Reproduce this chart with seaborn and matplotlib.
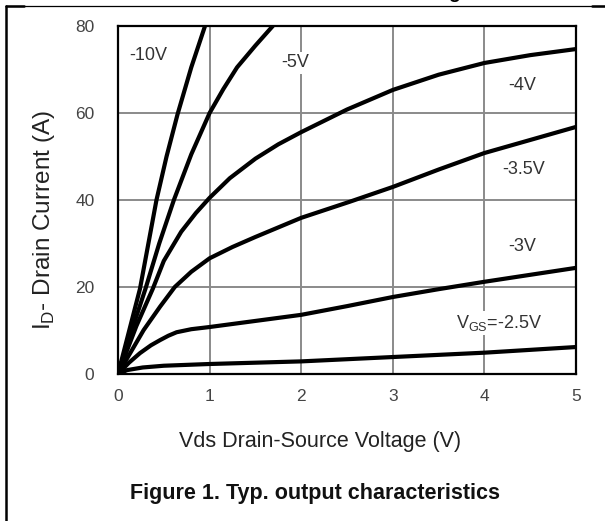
import matplotlib
matplotlib.use("Agg")
import matplotlib.pyplot as plt
import seaborn as sns
import pandas as pd
from matplotlib.lines import Line2D

# ---- data ----
v_10 = [0, 0.12, 0.24, 0.42, 0.53, 0.65, 0.80, 0.95]
i_10 = [0, 9.8, 19.6, 40, 50, 59.7, 70.5, 80]

v_5 = [0, 0.15, 0.30, 0.45, 0.61, 0.80, 1.0, 1.15, 1.3, 1.5, 1.69]
i_5 = [0, 10, 19.6, 30, 40, 50.5, 60, 65.5, 70.5, 75.5, 80]

v_4 = [0, 0.2, 0.38, 0.5, 0.69, 0.85, 1.0, 1.22, 1.5, 1.75, 2.0, 2.5, 3.0, 3.5, 4.0, 4.5, 5.0]
i_4 = [0, 11, 19.6, 26, 32.7, 37, 40.5, 45, 49.5, 52.8, 55.6, 60.8, 65.3, 68.8, 71.5, 73.3, 74.7]

v_35 = [0, 0.28, 0.46, 0.62, 0.8, 1.0, 1.25, 1.5, 2.0, 2.53, 3.0, 3.5, 4.0, 4.5, 5.0]
i_35 = [0, 10.1, 15.5, 20, 23.5, 26.6, 29.2, 31.5, 35.9, 39.6, 43, 47, 50.8, 53.8, 56.8]

v_3 = [0, 0.12, 0.24, 0.36, 0.46, 0.55, 0.64, 0.8, 1.0, 1.5, 2.0, 2.5, 3.0, 3.5, 4.0, 4.5, 5.0]
i_3 = [0, 2.6, 4.8, 6.6, 7.8, 8.8, 9.6, 10.3, 10.8, 12.2, 13.6, 15.6, 17.7, 19.5, 21.2, 22.8, 24.4]

v_25 = [0, 0.1, 0.27, 0.5, 1.0, 2.0, 3.0, 4.0, 5.0]
i_25 = [0, 0.9, 1.5, 1.9, 2.3, 2.9, 3.9, 4.9, 6.2]

series_names = ["-10V", "-5V", "-4V", "-3.5V", "-3V", "-2.5V"]
series_v = [v_10, v_5, v_4, v_35, v_3, v_25]
series_i = [i_10, i_5, i_4, i_35, i_3, i_25]

label_texts = ["-10V", "-5V", "-4V", "-3.5V", "-3V", r"V$_\mathregular{GS}$=-2.5V"]
label_x = [0.33, 1.93, 4.41, 4.43, 4.41, 4.16]
label_y = [73.3, 71.5, 66.4, 46.9, 29.2, 11.7]

x_ticks = [0, 1, 2, 3, 4, 5]
y_ticks = [0, 20, 40, 60, 80]

rows = []
for name, vs, cs in zip(series_names, series_v, series_i):
    for k, (a, b) in enumerate(zip(vs, cs)):
        rows.append({"vgs": name, "vds": a, "id": b, "order": k})
df = pd.DataFrame(rows)

sns.set_style("white")
plt.rcParams["font.family"] = ["Liberation Sans", "DejaVu Sans"]

fig = plt.figure(figsize=(6.05, 5.21), dpi=100)
ax = fig.add_axes([118 / 605, 1 - 374 / 521, 458 / 605, 348 / 521])

for v in [1, 2, 3, 4]:
    ax.axvline(v, color="#8a8a8a", lw=1.4, zorder=1)
for c in [20, 40, 60]:
    ax.axhline(c, color="#8a8a8a", lw=1.4, zorder=1)

sns.lineplot(data=df, x="vds", y="id", hue="vgs", units="vgs", estimator=None,
             sort=False, palette=["black"] * len(series_names), lw=3.0,
             legend=False, ax=ax, zorder=3)
for ln in ax.get_lines():
    ln.set_solid_joinstyle("round")
    ln.set_solid_capstyle("round")

for t, x, y in zip(label_texts, label_x, label_y):
    ax.text(x, y, t, ha="center", va="center", fontsize=13, color="#333333",
            zorder=2, bbox=dict(facecolor="white", edgecolor="none", pad=1.5))

ax.set_xlim(0, 5)
ax.set_ylim(0, 80)
ax.set_xticks(x_ticks)
ax.set_yticks(y_ticks)
ax.set_xticklabels([str(t) for t in x_ticks])
ax.set_yticklabels([str(t) for t in y_ticks])
ax.tick_params(axis="both", length=0, labelsize=12.5, labelcolor="#444444", pad=11)
ax.tick_params(axis="y", pad=17)
for s in ax.spines.values():
    s.set_color("black")
    s.set_linewidth(1.6)
    s.set_zorder(4)

ax.set_xlabel("Vds Drain-Source Voltage (V)", fontsize=15.5, color="#222222")
ax.set_ylabel(r"I$_\mathregular{D}$- Drain Current (A)", fontsize=17.5, color="#222222")
ax.xaxis.set_label_coords((320 - 118) / 458, -(431 - 374) / 348)
ax.yaxis.set_label_coords(-(118 - 57) / 458, (374 - 220) / 348)

fig.text(315 / 605, 1 - 493 / 521, "Figure 1. Typ. output characteristics",
         ha="center", va="center", fontsize=15.5, fontweight="bold", color="#111111")

# page frame and cut-off heading fragment
fig.add_artist(Line2D([6 / 605, 6 / 605], [0, 1 - 6 / 521], transform=fig.transFigure,
                      color="black", lw=1.8))
fig.add_artist(Line2D([6 / 605, 1], [1 - 6 / 521, 1 - 6 / 521], transform=fig.transFigure,
                      color="black", lw=0.9))
fig.add_artist(Line2D([6 / 605, 24 / 605], [1 - 6 / 521, 1 - 6 / 521], transform=fig.transFigure,
                      color="black", lw=1.8))
fig.add_artist(Line2D([592 / 605, 1], [1 - 6 / 521, 1 - 6 / 521], transform=fig.transFigure,
                      color="black", lw=1.8))
fig.text(454 / 605, 1 + 2 / 521, "g", ha="center", va="baseline", fontsize=14,
         fontweight="bold", color="black")

fig.savefig("out.png", dpi=100)
